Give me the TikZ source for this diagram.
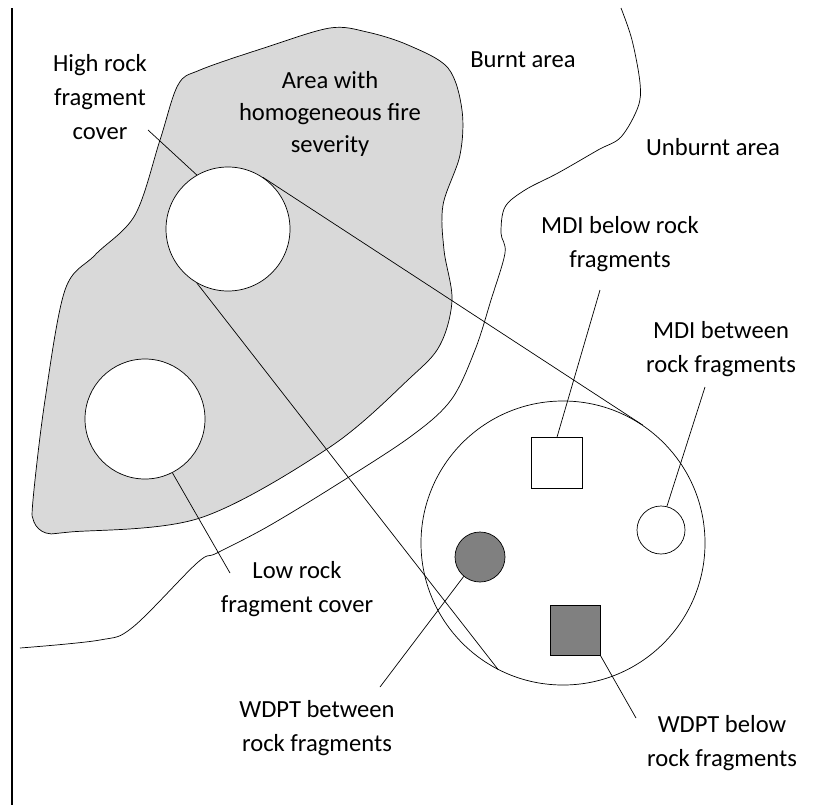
\documentclass[tikz,border=0pt]{standalone}
\usepackage{fontspec}
\setmainfont{Carlito}

\begin{document}
\begin{tikzpicture}[x=0.03cm, y=-0.03cm, line width=0.6pt,
        spot/.style = {draw, circle, inner sep=0pt},
        patch/.style = {draw, rectangle, inner sep=0pt},
        txt/.style = {align=center, font=\fontsize{21}{29}\selectfont} ]
        \useasboundingbox (0, 0) rectangle (818, 805);
        \draw[line width=1pt] (12, 8) -- (12, 805);

        % area with homogeneous fire severity
        \filldraw[fill=black!15] plot[smooth cycle, tension=0.55] coordinates {
            (330, 28) (367, 32) (408, 45) (448, 68) (462, 110) (460, 155)
            (443, 205) (444, 250) (452, 300) (440, 345) (410, 378) (330, 447)
            (200, 518) (70, 532) (46, 533) (34, 522) (33, 500) (45, 400)
            (65, 290) (95, 255) (135, 215) (160, 140) (178, 85) (200, 70) (267, 47)};

        % border burnt / unburnt
        \draw plot[smooth, tension=0.55] coordinates {
            (621, 8) (632, 40) (640, 83) (638, 107) (621, 137) (598, 150)
            (558, 173) (525, 190) (505, 207) (501, 233) (505, 253) (491, 300)
            (475, 350) (451, 400) (410, 437) (333, 487) (267, 527) (217, 553)
            (197, 563) (133, 627) (100, 640) (20, 648)};

        \node at (228, 229) [spot, fill=white, minimum size=3.72cm] (hi) {};
        \node at (145, 419) [spot, fill=white, minimum size=3.6cm] (lo) {};
        \node at (563, 543) [spot, minimum size=8.52cm] (plot) {};

        \node at (557, 463) [patch, minimum size=1.53cm] (mdib) {};
        \node at (661, 530) [spot, minimum size=1.44cm] (mdibt) {};
        \node at (480, 557) [spot, fill=black!50, minimum size=1.5cm] (wdptbt) {};
        \node at (575, 630) [patch, fill=black!50, minimum size=1.5cm] (wdptb) {};

        \node at (100, 97) [txt] (hitxt) {High rock\\fragment\\cover};
        \node at (330, 114) [txt, font=\fontsize{21}{27}\selectfont] (areatxt) {Area with\\homogeneous fire\\severity};
        \node at (523, 60) [txt] (burnt) {Burnt area};
        \node at (713, 147) [txt] (unburnt) {Unburnt area};
        \node at (297, 589) [txt] (lotxt) {Low rock\\fragment cover};
        \node at (620, 244) [txt] (mdibtxt) {MDI below rock\\fragments};
        \node at (721, 349) [txt] (mdibttxt) {MDI between\\rock fragments};
        \node at (317, 728) [txt] (wdptbttxt) {WDPT between\\rock fragments};
        \node at (722, 743) [txt] (wdptbtxt) {WDPT below\\rock fragments};

        \coordinate (hiend) at (148, 130);
        \coordinate (loend) at (230, 573);
        \coordinate (mdibend) at (600, 290);
        \coordinate (mdibtend) at (705, 387);
        \coordinate (wdptbtend) at (380, 687);
        \coordinate (wdptbend) at (636, 718);

        \path[draw]
        (hi.56) edge (plot.56)
        (hi.240) edge (plot.243)
        (hi.120) edge (hiend)
        (lo.-63) edge (loend)
        (mdib.north) edge (mdibend)
        (mdibt.76) edge (mdibtend)
        (wdptbt.230) edge (wdptbtend)
        (wdptb.south east) edge (wdptbend);
    \end{tikzpicture}
\end{document}
